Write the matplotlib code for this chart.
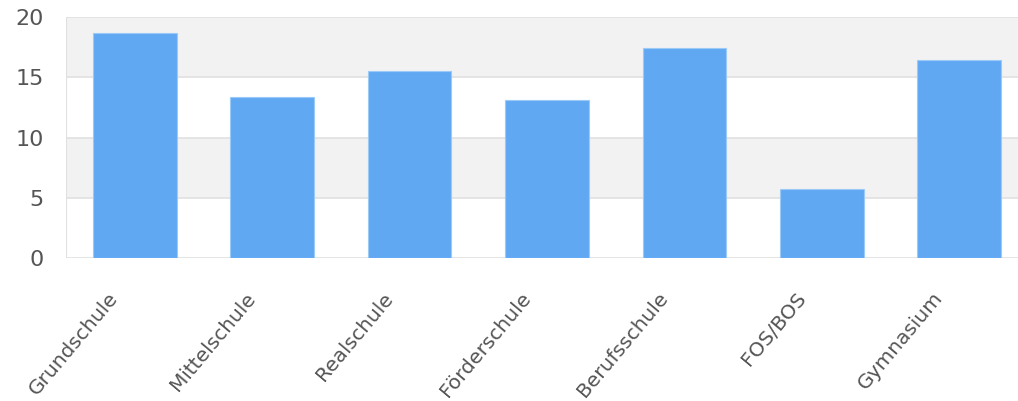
import matplotlib
matplotlib.use("Agg")
import matplotlib.pyplot as plt
from matplotlib.transforms import ScaledTranslation

categories = ["Grundschule", "Mittelschule", "Realschule", "Förderschule",
              "Berufsschule", "FOS/BOS", "Gymnasium"]
values = [18.7, 13.4, 15.5, 13.1, 17.4, 5.7, 16.4]
yticks = [0, 5, 10, 15, 20]

W, H = 1018, 401
fig = plt.figure(figsize=(W / 100, H / 100), dpi=100)
left, right, top, bottom = 66, 1028, 17, 258
ax = fig.add_axes([left / W, 1 - bottom / H, (right - left) / W, (bottom - top) / H])

ax.set_xlim(-0.5, len(categories) - 0.5)
ax.set_ylim(0, 20)

# alternating bands
for i in range(len(yticks) - 1):
    if i % 2 == 1:
        ax.axhspan(yticks[i], yticks[i + 1], color="#f2f2f2", zorder=0, lw=0)
for y in yticks:
    ax.axhline(y, color="#e0e0e0", lw=1.2, zorder=1)
ax.axvline(-0.5, color="#e0e0e0", lw=1.5, zorder=1)

x = range(len(categories))
ax.bar(x, values, width=0.61, color="#61a8f3", edgecolor="#9ccaf7",
       linewidth=0.8, zorder=2)

for s in ax.spines.values():
    s.set_visible(False)

ax.set_yticks(yticks)
ax.set_yticklabels([str(v) for v in yticks], fontsize=16, color="#555555")
ax.tick_params(axis="y", length=0, pad=16)
ax.set_xticks(list(x))
ax.set_xticklabels(categories, rotation=50, ha="right", rotation_mode="anchor",
                   fontsize=14.5, color="#555555")
ax.tick_params(axis="x", length=0, pad=22)
off = ScaledTranslation(-0.27, 0, fig.dpi_scale_trans)
for lbl in ax.get_xticklabels():
    lbl.set_transform(lbl.get_transform() + off)

fig.savefig("out.png", dpi=100)
